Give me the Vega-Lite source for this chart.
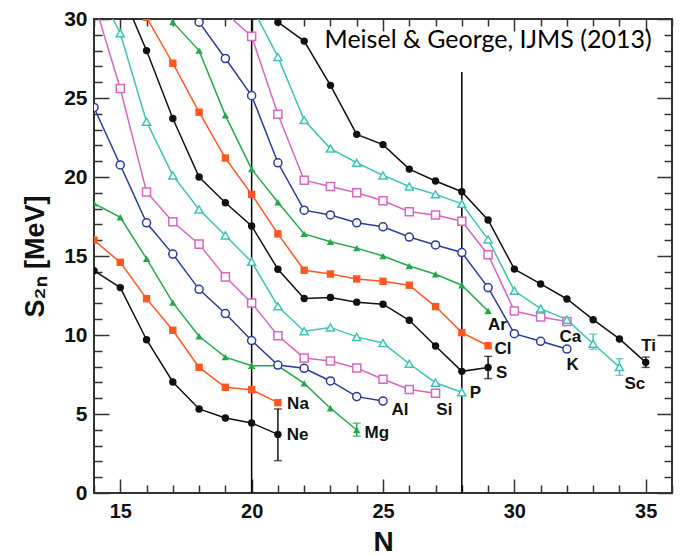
{
  "$schema": "https://vega.github.io/schema/vega-lite/v6.json",
  "width": 578,
  "height": 474,
  "autosize": "none",
  "padding": {"left": 94, "top": 19, "right": 20, "bottom": 62},
  "background": "white",
  "config": {"view": {"stroke": "#333333", "strokeWidth": 2}},
  "datasets": {
    "main": [
      {"el":"Ne","N":14,"S":14.07},{"el":"Ne","N":15,"S":13.0},{"el":"Ne","N":16,"S":9.7},{"el":"Ne","N":17,"S":7.03},{"el":"Ne","N":18,"S":5.32},{"el":"Ne","N":19,"S":4.75},{"el":"Ne","N":20,"S":4.43},{"el":"Ne","N":21,"S":3.71},
      {"el":"Na","N":14,"S":16.0},{"el":"Na","N":15,"S":14.6},{"el":"Na","N":16,"S":12.3},{"el":"Na","N":17,"S":10.3},{"el":"Na","N":18,"S":7.95},{"el":"Na","N":19,"S":6.69},{"el":"Na","N":20,"S":6.54},{"el":"Na","N":21,"S":5.72},
      {"el":"Mg","N":14,"S":18.33},{"el":"Mg","N":15,"S":17.45},{"el":"Mg","N":16,"S":14.83},{"el":"Mg","N":17,"S":12.05},{"el":"Mg","N":18,"S":9.92},{"el":"Mg","N":19,"S":8.6},{"el":"Mg","N":20,"S":8.05},{"el":"Mg","N":21,"S":8.05},{"el":"Mg","N":22,"S":6.94},{"el":"Mg","N":23,"S":5.36},{"el":"Mg","N":24,"S":3.99},
      {"el":"Al","N":14,"S":24.4},{"el":"Al","N":15,"S":20.76},{"el":"Al","N":16,"S":17.1},{"el":"Al","N":17,"S":15.12},{"el":"Al","N":18,"S":12.89},{"el":"Al","N":19,"S":11.36},{"el":"Al","N":20,"S":9.65},{"el":"Al","N":21,"S":8.1},{"el":"Al","N":22,"S":7.89},{"el":"Al","N":23,"S":7.09},{"el":"Al","N":24,"S":6.1},{"el":"Al","N":25,"S":5.82},
      {"el":"Si","N":14,"S":31.1},{"el":"Si","N":15,"S":25.6},{"el":"Si","N":16,"S":19.05},{"el":"Si","N":17,"S":17.17},{"el":"Si","N":18,"S":15.75},{"el":"Si","N":19,"S":13.68},{"el":"Si","N":20,"S":12.03},{"el":"Si","N":21,"S":9.95},{"el":"Si","N":22,"S":8.55},{"el":"Si","N":23,"S":8.36},{"el":"Si","N":24,"S":7.91},{"el":"Si","N":25,"S":7.2},{"el":"Si","N":26,"S":6.55},{"el":"Si","N":27,"S":6.31},
      {"el":"P","N":14,"S":32.4},{"el":"P","N":15,"S":29.1},{"el":"P","N":16,"S":23.5},{"el":"P","N":17,"S":20.1},{"el":"P","N":18,"S":17.95},{"el":"P","N":19,"S":16.3},{"el":"P","N":20,"S":14.63},{"el":"P","N":21,"S":11.82},{"el":"P","N":22,"S":10.24},{"el":"P","N":23,"S":10.48},{"el":"P","N":24,"S":9.88},{"el":"P","N":25,"S":9.49},{"el":"P","N":26,"S":8.18},{"el":"P","N":27,"S":6.98},{"el":"P","N":28,"S":6.38},
      {"el":"S","N":15,"S":31.9},{"el":"S","N":16,"S":28.0},{"el":"S","N":17,"S":23.7},{"el":"S","N":18,"S":20.0},{"el":"S","N":19,"S":18.37},{"el":"S","N":20,"S":16.9},{"el":"S","N":21,"S":14.16},{"el":"S","N":22,"S":12.31},{"el":"S","N":23,"S":12.38},{"el":"S","N":24,"S":12.08},{"el":"S","N":25,"S":11.95},{"el":"S","N":26,"S":10.93},{"el":"S","N":27,"S":9.3},{"el":"S","N":28,"S":7.7},{"el":"S","N":29,"S":7.95},
      {"el":"Cl","N":16,"S":30.1},{"el":"Cl","N":17,"S":27.2},{"el":"Cl","N":18,"S":24.1},{"el":"Cl","N":19,"S":21.2},{"el":"Cl","N":20,"S":18.9},{"el":"Cl","N":21,"S":16.4},{"el":"Cl","N":22,"S":14.1},{"el":"Cl","N":23,"S":13.86},{"el":"Cl","N":24,"S":13.55},{"el":"Cl","N":25,"S":13.4},{"el":"Cl","N":26,"S":13.15},{"el":"Cl","N":27,"S":11.8},{"el":"Cl","N":28,"S":10.15},{"el":"Cl","N":29,"S":9.32},
      {"el":"Ar","N":16,"S":33.5},{"el":"Ar","N":17,"S":29.8},{"el":"Ar","N":18,"S":28.0},{"el":"Ar","N":19,"S":23.9},{"el":"Ar","N":20,"S":20.5},{"el":"Ar","N":21,"S":18.4},{"el":"Ar","N":22,"S":16.4},{"el":"Ar","N":23,"S":15.9},{"el":"Ar","N":24,"S":15.5},{"el":"Ar","N":25,"S":15.0},{"el":"Ar","N":26,"S":14.37},{"el":"Ar","N":27,"S":13.84},{"el":"Ar","N":28,"S":13.15},{"el":"Ar","N":29,"S":11.52},
      {"el":"K","N":17,"S":34.0},{"el":"K","N":18,"S":29.8},{"el":"K","N":19,"S":27.5},{"el":"K","N":20,"S":25.15},{"el":"K","N":21,"S":20.9},{"el":"K","N":22,"S":17.9},{"el":"K","N":23,"S":17.6},{"el":"K","N":24,"S":17.1},{"el":"K","N":25,"S":16.85},{"el":"K","N":26,"S":16.2},{"el":"K","N":27,"S":15.7},{"el":"K","N":28,"S":15.22},{"el":"K","N":29,"S":13.0},{"el":"K","N":30,"S":10.08},{"el":"K","N":31,"S":9.6},{"el":"K","N":32,"S":9.11},
      {"el":"Ca","N":19,"S":30.4},{"el":"Ca","N":20,"S":28.9},{"el":"Ca","N":21,"S":23.97},{"el":"Ca","N":22,"S":19.8},{"el":"Ca","N":23,"S":19.4},{"el":"Ca","N":24,"S":19.0},{"el":"Ca","N":25,"S":18.5},{"el":"Ca","N":26,"S":17.8},{"el":"Ca","N":27,"S":17.6},{"el":"Ca","N":28,"S":17.2},{"el":"Ca","N":29,"S":15.08},{"el":"Ca","N":30,"S":11.52},{"el":"Ca","N":31,"S":11.14},{"el":"Ca","N":32,"S":10.86},
      {"el":"Sc","N":20,"S":30.8},{"el":"Sc","N":21,"S":27.6},{"el":"Sc","N":22,"S":23.6},{"el":"Sc","N":23,"S":21.8},{"el":"Sc","N":24,"S":20.9},{"el":"Sc","N":25,"S":20.1},{"el":"Sc","N":26,"S":19.4},{"el":"Sc","N":27,"S":18.9},{"el":"Sc","N":28,"S":18.3},{"el":"Sc","N":29,"S":16.05},{"el":"Sc","N":30,"S":12.8},{"el":"Sc","N":31,"S":11.67},{"el":"Sc","N":32,"S":10.97},{"el":"Sc","N":33,"S":9.45},{"el":"Sc","N":34,"S":7.97},
      {"el":"Ti","N":21,"S":29.8},{"el":"Ti","N":22,"S":28.6},{"el":"Ti","N":23,"S":25.8},{"el":"Ti","N":24,"S":22.7},{"el":"Ti","N":25,"S":22.05},{"el":"Ti","N":26,"S":20.5},{"el":"Ti","N":27,"S":19.75},{"el":"Ti","N":28,"S":19.07},{"el":"Ti","N":29,"S":17.28},{"el":"Ti","N":30,"S":14.17},{"el":"Ti","N":31,"S":13.23},{"el":"Ti","N":32,"S":12.28},{"el":"Ti","N":33,"S":10.97},{"el":"Ti","N":34,"S":9.75},{"el":"Ti","N":35,"S":8.27}
    ],
    "errs": [
      {"el":"Ne","N":21,"lo":2.05,"hi":5.32},
      {"el":"Mg","N":24,"lo":3.6,"hi":4.42},
      {"el":"S","N":29,"lo":7.24,"hi":8.65},
      {"el":"Sc","N":33,"lo":9.1,"hi":10.05},
      {"el":"Sc","N":34,"lo":7.45,"hi":8.5},
      {"el":"Ti","N":35,"lo":7.95,"hi":8.6}
    ],
    "vlines": [
      {"N":20,"lo":0,"hi":30},
      {"N":28,"lo":0,"hi":26.65}
    ],
    "labels": [
      {"el":"Ne","N":21.34,"S":3.67},
      {"el":"Na","N":21.35,"S":5.63},
      {"el":"Mg","N":24.3,"S":3.78},
      {"el":"Al","N":25.32,"S":5.25},
      {"el":"Si","N":27.03,"S":5.25},
      {"el":"P","N":28.3,"S":6.3},
      {"el":"S","N":29.3,"S":7.58},
      {"el":"Cl","N":29.24,"S":9.1},
      {"el":"Ar","N":29.0,"S":10.63},
      {"el":"K","N":31.98,"S":8.1},
      {"el":"Ca","N":31.72,"S":9.85},
      {"el":"Sc","N":34.19,"S":6.9},
      {"el":"Ti","N":34.83,"S":9.3}
    ],
    "note": [{"N":29.0,"S":28.7,"t":"Meisel & George, IJMS (2013)"}]
  },
  "resolve": {"axis": {"x": "independent", "y": "independent"}},
  "layer": [
    {
      "data": {"name": "vlines"},
      "mark": {"type": "rule", "color": "#000000", "strokeWidth": 1.5},
      "encoding": {
        "x": {"field": "N", "type": "quantitative", "scale": {"domain": [14, 36], "nice": false, "zero": false}, "axis": null},
        "y": {"field": "lo", "type": "quantitative", "scale": {"domain": [0, 30], "nice": false}, "axis": null},
        "y2": {"field": "hi"}
      }
    },
    {
      "data": {"name": "main"},
      "mark": {"type": "line", "strokeWidth": 1.5, "clip": true},
      "encoding": {
        "x": {"field": "N", "type": "quantitative", "scale": {"domain": [14, 36], "nice": false, "zero": false},
          "axis": {"orient": "bottom", "values": [14,15,16,17,18,19,20,21,22,23,24,25,26,27,28,29,30,31,32,33,34,35,36],
            "labelExpr": "datum.value % 5 === 0 ? datum.label : ''",
            "tickSize": {"condition": {"test": "datum.value % 5 === 0", "value": -14}, "value": -8},
            "tickColor": "#333333", "tickWidth": 1.5, "domain": false, "grid": false,
            "labelFont": "Liberation Sans", "labelFontWeight": "bold", "labelFontSize": 20, "labelColor": "#111111", "labelPadding": 22,
            "labelFlush": false, "labelOverlap": false,
            "title": "N", "titleFont": "Liberation Sans", "titleFontSize": 28, "titleFontWeight": "bold", "titleColor": "#111111", "titlePadding": 1}},
        "y": {"field": "S", "type": "quantitative", "scale": {"domain": [0, 30], "nice": false},
          "axis": {"orient": "left", "values": [0,1,2,3,4,5,6,7,8,9,10,11,12,13,14,15,16,17,18,19,20,21,22,23,24,25,26,27,28,29,30],
            "labelExpr": "datum.value % 5 === 0 ? datum.label : ''",
            "tickSize": {"condition": {"test": "datum.value % 5 === 0", "value": -15}, "value": -8},
            "tickColor": "#333333", "tickWidth": 1.5, "domain": false, "grid": false,
            "labelFont": "Liberation Sans", "labelFontWeight": "bold", "labelFontSize": 21, "labelColor": "#111111", "labelPadding": 22,
            "labelFlush": false, "labelOverlap": false,
            "title": "S₂ₙ [MeV]", "titleFont": "Liberation Sans", "titleFontSize": 27, "titleFontWeight": "bold", "titleColor": "#111111", "titlePadding": 14}},
        "color": {"field": "el", "type": "nominal", "legend": null,
          "scale": {"domain": ["Ne","Na","Mg","Al","Si","P","S","Cl","Ar","K","Ca","Sc","Ti"],
            "range": ["#111111","#FF5722","#25A84C","#2B3C9C","#D666C4","#3EC3B5","#111111","#FF5722","#25A84C","#2B3C9C","#D666C4","#3EC3B5","#111111"]}}
      }
    },
    {
      "data": {"name": "errs"},
      "mark": {"type": "rule", "strokeWidth": 1.5},
      "encoding": {
        "x": {"field": "N", "type": "quantitative", "axis": null},
        "y": {"field": "lo", "type": "quantitative", "axis": null},
        "y2": {"field": "hi"},
        "color": {"field": "el", "type": "nominal", "legend": null}
      }
    },
    {
      "data": {"name": "errs"},
      "mark": {"type": "tick", "orient": "horizontal", "size": 8, "thickness": 1.5},
      "encoding": {
        "x": {"field": "N", "type": "quantitative", "axis": null},
        "y": {"field": "lo", "type": "quantitative", "axis": null},
        "color": {"field": "el", "type": "nominal", "legend": null}
      }
    },
    {
      "data": {"name": "errs"},
      "mark": {"type": "tick", "orient": "horizontal", "size": 8, "thickness": 1.5},
      "encoding": {
        "x": {"field": "N", "type": "quantitative", "axis": null},
        "y": {"field": "hi", "type": "quantitative", "axis": null},
        "color": {"field": "el", "type": "nominal", "legend": null}
      }
    },
    {
      "data": {"name": "main"},
      "transform": [{"filter": {"field": "el", "oneOf": ["Ne","Na","Mg","S","Cl","Ar","Ti"]}}],
      "mark": {"type": "point", "filled": true, "opacity": 1, "size": 55, "clip": true},
      "encoding": {
        "x": {"field": "N", "type": "quantitative",
          "axis": {"orient": "top", "values": [14,15,16,17,18,19,20,21,22,23,24,25,26,27,28,29,30,31,32,33,34,35,36],
            "labels": false, "title": null, "domain": false, "grid": false,
            "tickSize": {"condition": {"test": "datum.value % 5 === 0", "value": -12}, "value": -7},
            "tickColor": "#333333", "tickWidth": 1.5}},
        "y": {"field": "S", "type": "quantitative",
          "axis": {"orient": "right", "values": [0,1,2,3,4,5,6,7,8,9,10,11,12,13,14,15,16,17,18,19,20,21,22,23,24,25,26,27,28,29,30],
            "labels": false, "title": null, "domain": false, "grid": false,
            "tickSize": {"condition": {"test": "datum.value % 5 === 0", "value": -15}, "value": -8},
            "tickColor": "#333333", "tickWidth": 1.5}},
        "color": {"field": "el", "type": "nominal", "legend": null},
        "shape": {"field": "el", "type": "nominal", "legend": null,
          "scale": {"domain": ["Ne","Na","Mg","Al","Si","P","S","Cl","Ar","K","Ca","Sc","Ti"],
            "range": ["circle","square","triangle-up","circle","square","triangle-up","circle","square","triangle-up","circle","square","triangle-up","circle"]}}
      }
    },
    {
      "data": {"name": "main"},
      "transform": [{"filter": {"field": "el", "oneOf": ["Al","Si","P","K","Ca","Sc"]}}],
      "mark": {"type": "point", "filled": false, "fill": "white", "opacity": 1, "size": 65, "strokeWidth": 1.5, "clip": true},
      "encoding": {
        "x": {"field": "N", "type": "quantitative", "axis": null},
        "y": {"field": "S", "type": "quantitative", "axis": null},
        "color": {"field": "el", "type": "nominal", "legend": null},
        "shape": {"field": "el", "type": "nominal", "legend": null}
      }
    },
    {
      "data": {"name": "labels"},
      "mark": {"type": "text", "align": "left", "baseline": "middle", "font": "Liberation Sans", "fontWeight": "bold", "fontSize": 17, "color": "#111111"},
      "encoding": {
        "x": {"field": "N", "type": "quantitative", "axis": null},
        "y": {"field": "S", "type": "quantitative", "axis": null},
        "text": {"field": "el"}
      }
    },
    {
      "data": {"name": "note"},
      "mark": {"type": "text", "align": "center", "baseline": "middle", "font": "Lato", "fontSize": 25, "color": "#000000"},
      "encoding": {
        "x": {"field": "N", "type": "quantitative", "axis": null},
        "y": {"field": "S", "type": "quantitative", "axis": null},
        "text": {"field": "t"}
      }
    }
  ]
}
